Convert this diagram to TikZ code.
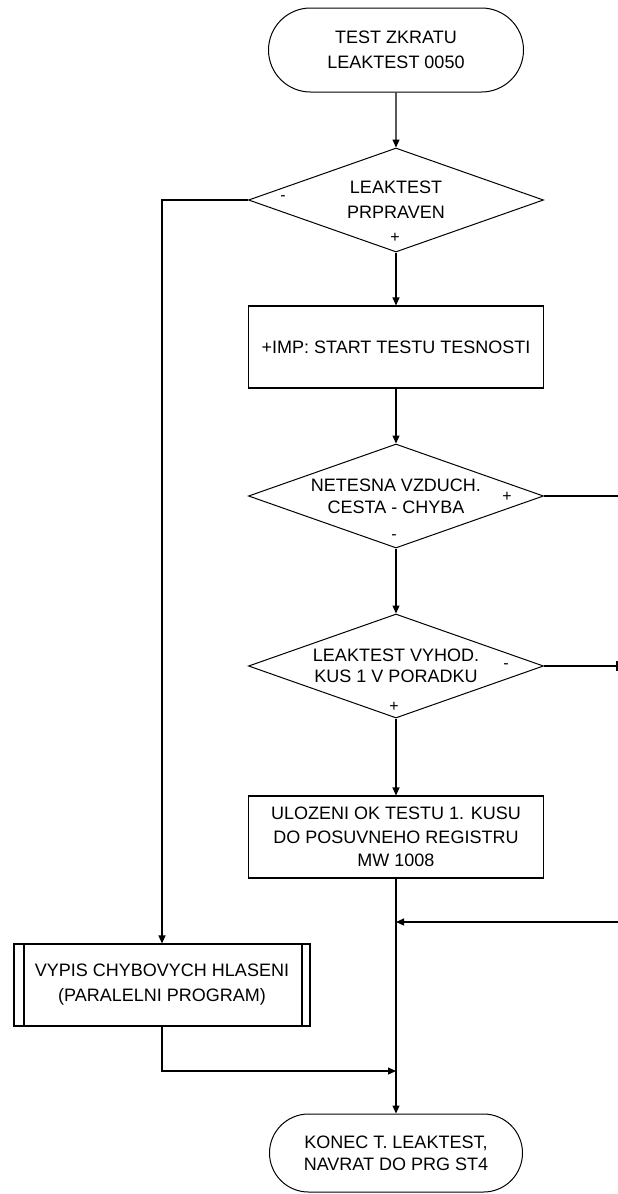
\documentclass[tikz,border=0pt]{standalone}
\usepackage{fontspec}
\setmainfont{Liberation Sans}
\usetikzlibrary{shapes.geometric,shapes.misc,arrows.meta}
\begin{document}
\begin{tikzpicture}[x=1pt,y=-1pt,
  every node/.style={font=\fontsize{18}{25}\selectfont, align=center, inner sep=0pt},
  flow/.style={line width=1.1pt, line join=miter},
  arr/.style={flow, -{Triangle[length=8pt,width=7pt]}},
  term/.style={draw, line width=1pt, rounded rectangle, minimum width=255pt, minimum height=84pt},
  decision/.style={draw, line width=1pt, diamond, aspect=3, minimum width=295pt, minimum height=104pt},
  proc/.style={draw, line width=1.1pt, rectangle, minimum width=295pt, minimum height=82pt},
  subproc/.style={proc, path picture={
      \draw[line width=1.1pt] ([xshift=10pt]path picture bounding box.north west) -- ([xshift=10pt]path picture bounding box.south west);
      \draw[line width=1.1pt] ([xshift=-8pt]path picture bounding box.north east) -- ([xshift=-8pt]path picture bounding box.south east);}},
  sign/.style={font=\fontsize{16}{16}\selectfont}
]
\useasboundingbox (0,0) rectangle (618,1194);

% main column
\node[term] (start) at (396,50) {TEST ZKRATU\\LEAKTEST 0050};
\node[decision] (d1) at (396,200) {LEAKTEST\\PRPRAVEN};
\node[proc] (b1) at (396,347) {+IMP: START TESTU TESNOSTI};
\node[decision, font=\fontsize{18}{22}\selectfont] (d2) at (396,496) {NETESNA VZDUCH.\\CESTA - CHYBA};
\node[decision, font=\fontsize{18}{20.5}\selectfont] (d3) at (396,666) {LEAKTEST VYHOD.\\KUS 1 V PORADKU};
\node[proc, font=\fontsize{18}{23.5}\selectfont] (b2) at (396,837) {ULOZENI OK TESTU 1. KUSU\\DO POSUVNEHO REGISTRU\\MW 1008};
\node[term, minimum width=253pt, minimum height=78pt, font=\fontsize{18}{22}\selectfont] (end) at (396,1153) {KONEC T. LEAKTEST,\\NAVRAT DO PRG ST4};

% error listing subprogram
\node[subproc, minimum width=296pt] (vypis) at (162,985) {VYPIS CHYBOVYCH HLASENI\\(PARALELNI PROGRAM)};

% branch signs
\node[sign] (s1m) at (283,198) {-};
\node[sign] (s1p) at (395,238) {+};
\node[sign] (s2p) at (507,497) {+};
\node[sign] (s2m) at (394,537) {-};
\node[sign] (s3m) at (506,666) {-};
\node[sign] (s3p) at (394,707) {+};

% junctions and off-page ends
\coordinate (j1) at (396,922);
\coordinate (j2) at (396,1071);
\coordinate (r1) at (618,496);
\coordinate (r2) at (617,666);
\coordinate (r3) at (618,922);

% main flow
\draw[arr] (start) -- (d1);
\draw[arr] (d1) -- (b1);
\draw[arr] (b1) -- (d2);
\draw[arr] (d2) -- (d3);
\draw[arr] (d3) -- (b2);
\draw[arr] (b2) -- (end);

% side branches
\draw[flow] (d2.east) -- (r1);
\draw[flow] (d3.east) -- (r2);
\draw[flow] ([yshift=-5pt]r2) -- ([yshift=5pt]r2);
\draw[arr] (r3) -- (j1);
\draw[arr] (d1.west) -| (vypis.north);
\draw[arr] (vypis.south) |- (j2);
\end{tikzpicture}
\end{document}
